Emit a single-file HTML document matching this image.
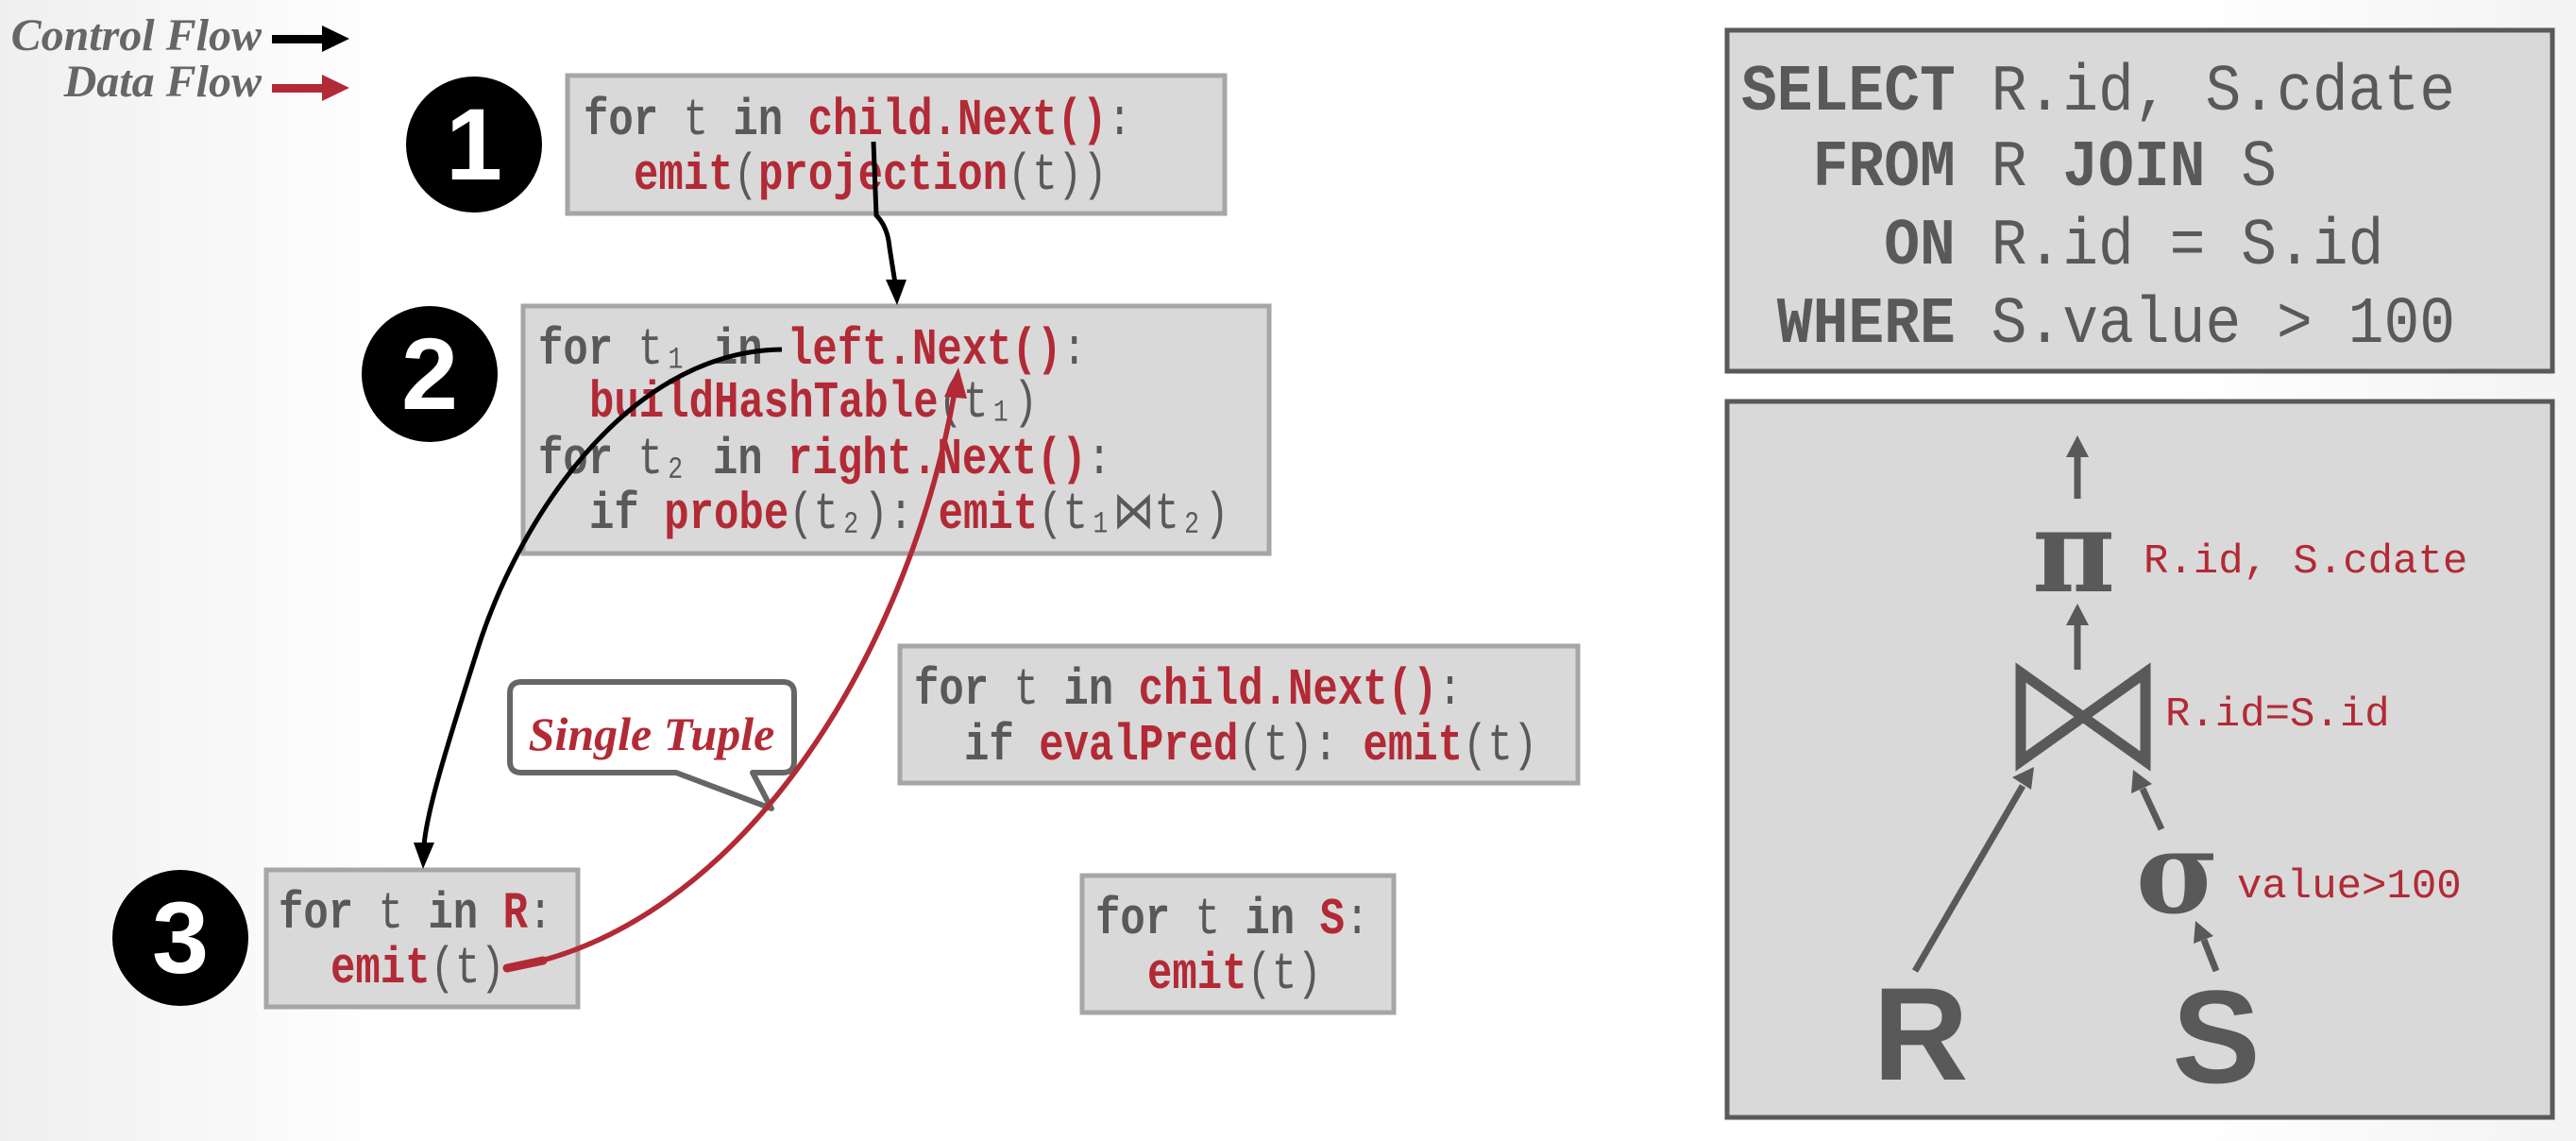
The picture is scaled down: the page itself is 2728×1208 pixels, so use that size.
<!DOCTYPE html>
<html><head><meta charset="utf-8">
<style>
html,body{margin:0;padding:0;}
body{width:2728px;height:1208px;overflow:hidden;background:linear-gradient(90deg,#efefef 0,#fff 420px,#fff 2300px,#f3f3f3 2728px);}
svg{display:block;}
text{white-space:pre;}
.m{font-family:"Liberation Mono","DejaVu Sans Mono",monospace;font-size:44px;}
.g{fill:#595959;}
.r{fill:#b22a35;font-weight:bold;}
.b{font-weight:bold;}
</style></head><body>
<svg width="2728" height="1208" viewBox="0 0 2728 1208" xmlns="http://www.w3.org/2000/svg">
<!-- legend -->
<text x="277" y="53" text-anchor="end" font-family="Liberation Serif,serif" font-style="italic" font-weight="bold" font-size="48" fill="#666">Control Flow</text>
<text x="277" y="102" text-anchor="end" font-family="Liberation Serif,serif" font-style="italic" font-weight="bold" font-size="48" fill="#666">Data Flow</text>
<rect x="288" y="37" width="55" height="9" fill="#000"/><polygon points="341,27 370,41 341,55" fill="#000"/>
<rect x="288" y="89" width="55" height="9" fill="#b22a35"/><polygon points="341,79 370,93 341,107" fill="#b22a35"/>

<!-- boxes -->
<g fill="#d9d9d9" stroke="#a6a6a6" stroke-width="5">
<rect x="601" y="80" width="696" height="146"/>
<rect x="554" y="324" width="790" height="262"/>
<rect x="953" y="684" width="718" height="145"/>
<rect x="282" y="921" width="330" height="145"/>
<rect x="1146" y="927" width="330" height="145"/>
</g>

<!-- circles -->
<g>
<circle cx="502" cy="153" r="72" fill="#000"/><text x="502" y="190" text-anchor="middle" font-family="Liberation Sans,sans-serif" font-weight="bold" font-size="108" fill="#fff">1</text>
<circle cx="455" cy="396" r="72" fill="#000"/><text x="455" y="433" text-anchor="middle" font-family="Liberation Sans,sans-serif" font-weight="bold" font-size="108" fill="#fff">2</text>
<circle cx="191" cy="993" r="72" fill="#000"/><text x="191" y="1030" text-anchor="middle" font-family="Liberation Sans,sans-serif" font-weight="bold" font-size="108" fill="#fff">3</text>
</g>

<!-- code text (vertically stretched) -->
<g transform="scale(1,1.25)" class="m">
<text x="618" y="113.6" class="g"><tspan class="b">for</tspan> t <tspan class="b">in</tspan> <tspan class="r">child.Next()</tspan>:</text>
<text x="671" y="160" class="g"><tspan class="r">emit</tspan>(<tspan class="r">projection</tspan>(t))</text>

<text x="570" y="308" class="g"><tspan class="b">for</tspan> t₁ <tspan class="b">in</tspan> <tspan class="r">left.Next()</tspan>:</text>
<text x="624" y="352.8" class="g"><tspan class="r">buildHashTable</tspan>(t₁)</text>
<text x="570" y="400.8" class="g"><tspan class="b">for</tspan> t₂ <tspan class="b">in</tspan> <tspan class="r">right.Next()</tspan>:</text>
<text x="624" y="447.2" class="g"><tspan class="b">if</tspan> <tspan class="r">probe</tspan>(t₂): <tspan class="r">emit</tspan>(t₁⋈t₂)</text>

<text x="968" y="596" class="g"><tspan class="b">for</tspan> t <tspan class="b">in</tspan> <tspan class="r">child.Next()</tspan>:</text>
<text x="1021" y="643.2" class="g"><tspan class="b">if</tspan> <tspan class="r">evalPred</tspan>(t): <tspan class="r">emit</tspan>(t)</text>

<text x="295" y="785.6" class="g"><tspan class="b">for</tspan> t <tspan class="b">in</tspan> <tspan class="r">R</tspan>:</text>
<text x="350" y="832" class="g"><tspan class="r">emit</tspan>(t)</text>

<text x="1160" y="790.4" class="g"><tspan class="b">for</tspan> t <tspan class="b">in</tspan> <tspan class="r">S</tspan>:</text>
<text x="1215" y="836.8" class="g"><tspan class="r">emit</tspan>(t)</text>
</g>

<!-- speech bubble -->
<path d="M552,722 H829 Q841,722 841,734 V806 Q841,818 829,818 H797 L817,856 L716,818 H552 Q540,818 540,806 V734 Q540,722 552,722 Z" fill="#fff" stroke="#666" stroke-width="6" stroke-linejoin="round"/>
<text x="690" y="794" text-anchor="middle" font-family="Liberation Serif,serif" font-style="italic" font-weight="bold" font-size="50" fill="#b22a35">Single Tuple</text>

<!-- control flow arrows -->
<path d="M925,150 L928,228 Q940,240 942,262 L948,300" fill="none" stroke="#000" stroke-width="5"/>
<polygon points="938,296 960,296 950,323" fill="#000"/>
<path d="M828,370 C660,372 545,560 505,690 C470,800 452,860 449,895" fill="none" stroke="#000" stroke-width="5"/>
<polygon points="438,892 460,892 448,920" fill="#000"/>

<!-- data flow arrow -->
<path d="M537,1025 C780,985 960,700 1011,415" fill="none" stroke="#b22a35" stroke-width="5.5"/>
<path d="M537,1025 L575,1017" fill="none" stroke="#b22a35" stroke-width="9" stroke-linecap="round"/>
<polygon points="1000,420 1024,422 1015,389" fill="#b22a35"/>

<!-- right panel -->
<rect x="1829" y="32" width="874" height="361" fill="#d9d9d9" stroke="#595959" stroke-width="5"/>
<rect x="1829" y="425" width="874" height="758" fill="#d9d9d9" stroke="#595959" stroke-width="5"/>
<g font-family="Liberation Mono,DejaVu Sans Mono,monospace" font-size="63" fill="#595959" transform="scale(1,1.1)">
<text x="1844" y="105.5"><tspan font-weight="bold">SELECT</tspan> R.id, S.cdate</text>
<text x="1844" y="178.2"><tspan font-weight="bold">  FROM</tspan> R <tspan font-weight="bold">JOIN</tspan> S</text>
<text x="1844" y="253.6"><tspan font-weight="bold">    ON</tspan> R.id = S.id</text>
<text x="1844" y="329"><tspan font-weight="bold"> WHERE</tspan> S.value &gt; 100</text>
</g>

<g stroke="#595959" stroke-width="7" fill="#595959">
<line x1="2200" y1="528" x2="2200" y2="482"/>
<polygon points="2188,484 2212,484 2200,461" stroke="none"/>
<line x1="2200" y1="709" x2="2200" y2="660"/>
<polygon points="2188,662 2212,662 2200,639" stroke="none"/>
<line x1="2028" y1="1028" x2="2142" y2="832"/>
<polygon points="2131,823 2151,836 2154,812" stroke="none"/>
<line x1="2289" y1="878" x2="2269" y2="835"/>
<polygon points="2257,840 2279,830 2259,815" stroke="none"/>
<line x1="2347" y1="1028" x2="2334" y2="995"/>
<polygon points="2323,999 2344,991 2325,975" stroke="none"/>
</g>
<polygon points="2140,712 2140,806 2206,759" fill="none" stroke="#595959" stroke-width="11" stroke-linejoin="miter"/>
<polygon points="2272,712 2272,806 2206,759" fill="none" stroke="#595959" stroke-width="11" stroke-linejoin="miter"/>
<text x="2196" y="626" text-anchor="middle" font-family="DejaVu Serif,Liberation Serif,serif" font-weight="bold" font-size="120" fill="#595959">π</text>
<text x="2306" y="966" text-anchor="middle" font-family="DejaVu Serif,Liberation Serif,serif" font-weight="bold" font-size="120" fill="#595959">σ</text>
<text x="2034" y="1143" text-anchor="middle" font-family="Liberation Sans,sans-serif" font-weight="bold" font-size="140" fill="#595959">R</text>
<text x="2347" y="1146" text-anchor="middle" font-family="Liberation Sans,sans-serif" font-weight="bold" font-size="140" fill="#595959">S</text>
<g font-family="Liberation Mono,DejaVu Sans Mono,monospace" font-size="44" fill="#b22a35">
<text x="2270" y="606">R.id, S.cdate</text>
<text x="2293" y="768">R.id=S.id</text>
<text x="2369" y="950">value&gt;100</text>
</g>
</svg>
</body></html>
